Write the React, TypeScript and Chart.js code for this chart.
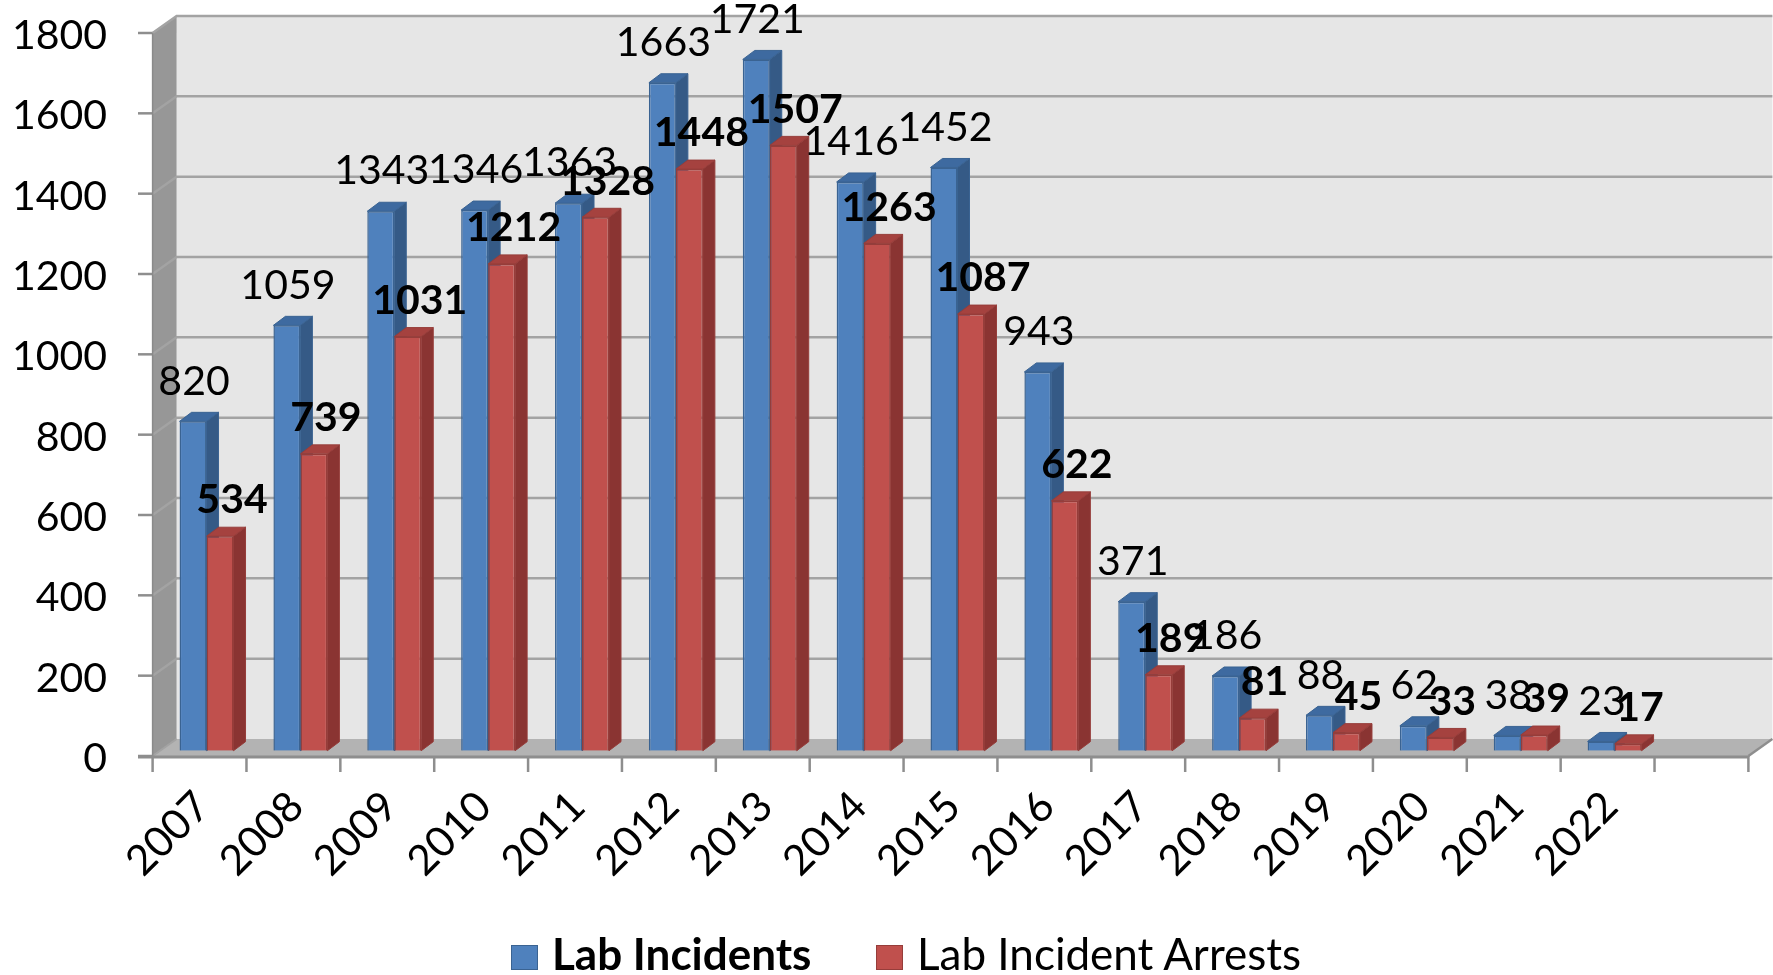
import React, { useEffect, useRef } from 'react';
import { Chart, registerables } from 'chart.js';

Chart.register(...registerables);

// ---------- data ----------
const years = ['2007', '2008', '2009', '2010', '2011', '2012', '2013', '2014', '2015', '2016', '2017', '2018', '2019', '2020', '2021', '2022', ''];
const labIncidents = [820, 1059, 1343, 1346, 1363, 1663, 1721, 1416, 1452, 943, 371, 186, 88, 62, 38, 23, null];
const labArrests = [534, 739, 1031, 1212, 1328, 1448, 1507, 1263, 1087, 622, 189, 81, 45, 33, 39, 17, null];
const seriesNames = ['Lab Incidents', 'Lab Incident Arrests'];
const yMin = 0;
const yMax = 1800;
const yStep = 200;

// ---------- styling / geometry ----------
const W = 1773;
const H = 975;
const FONT = 'Lato, "Open Sans", sans-serif';
const BLUE = { front: '#4F81BD', top: '#3E6AA0', side: '#355A86', edge: '#3A6392' };
const RED = { front: '#C0504D', top: '#A5423F', side: '#8A3432', edge: '#963D3A' };
const BACK_WALL = '#E6E6E6';
const SIDE_WALL = '#979797';
const FLOOR = '#B3B3B3';
const GRID = '#A3A3A3';
const AXIS = '#8E8E8E';
// bar plane relative to the front plane
const BAR_DX = 7;
const BAR_DY = -5.3;
// full wall depth
const WALL_DX = 24;
const WALL_DY = -17;
// bar depth
const BAR_DEPTH_DX = 12;
const BAR_DEPTH_DY = -9;
const AREA_LEFT = 159.6;
const AREA_RIGHT = 1755.4;
const AREA_TOP = 27.7;
const AREA_BOTTOM = 750.7;

function poly(ctx: CanvasRenderingContext2D, pts: number[][], fill?: string, stroke?: string, lw = 1) {
  ctx.beginPath();
  ctx.moveTo(pts[0][0], pts[0][1]);
  for (let i = 1; i < pts.length; i++) ctx.lineTo(pts[i][0], pts[i][1]);
  ctx.closePath();
  if (fill) {
    ctx.fillStyle = fill;
    ctx.fill();
  }
  if (stroke) {
    ctx.strokeStyle = stroke;
    ctx.lineWidth = lw;
    ctx.stroke();
  }
}

function line(ctx: CanvasRenderingContext2D, pts: number[][], color: string, lw: number) {
  ctx.beginPath();
  ctx.moveTo(pts[0][0], pts[0][1]);
  for (let i = 1; i < pts.length; i++) ctx.lineTo(pts[i][0], pts[i][1]);
  ctx.strokeStyle = color;
  ctx.lineWidth = lw;
  ctx.stroke();
}

const wallsPlugin = {
  id: 'walls3d',
  beforeDraw(chart: any) {
    const { ctx, chartArea: ca, scales } = chart;
    const y = scales.y;
    const fl = ca.left - BAR_DX;
    const fr = ca.right - BAR_DX;
    const fy = (v: number) => y.getPixelForValue(v) - BAR_DY;
    const f0 = fy(yMin);
    const fTop = fy(yMax);
    ctx.save();
    // back wall
    poly(ctx, [[fl + WALL_DX, fTop + WALL_DY], [fr + WALL_DX, fTop + WALL_DY], [fr + WALL_DX, f0 + WALL_DY], [fl + WALL_DX, f0 + WALL_DY]], BACK_WALL);
    // side wall
    poly(ctx, [[fl, fTop], [fl + WALL_DX, fTop + WALL_DY], [fl + WALL_DX, f0 + WALL_DY], [fl, f0]], SIDE_WALL);
    // floor
    poly(ctx, [[fl, f0], [fr, f0], [fr + WALL_DX, f0 + WALL_DY], [fl + WALL_DX, f0 + WALL_DY]], FLOOR);
    // gridlines
    for (let v = yMin; v <= yMax; v += yStep) {
      const py = fy(v);
      if (v === yMin) {
        line(ctx, [[fl, py], [fl + WALL_DX, py + WALL_DY]], GRID, 2);
      } else {
        line(ctx, [[fl, py], [fl + WALL_DX, py + WALL_DY], [fr + WALL_DX, py + WALL_DY]], GRID, 2.5);
      }
      // y tick marks on the front edge
      line(ctx, [[fl - 14.6, py], [fl, py]], AXIS, 2.5);
    }
    // floor right edge
    line(ctx, [[fr, f0], [fr + WALL_DX, f0 + WALL_DY]], AXIS, 2.5);
    // front vertical axis edge
    line(ctx, [[fl, fTop], [fl, f0]], '#8A8A8A', 1.5);
    // x axis line
    line(ctx, [[fl - 14.6, f0 + 1], [fr, f0 + 1]], AXIS, 3);
    // x tick marks at category boundaries
    const n = years.length;
    const cw = (fr - fl) / n;
    for (let k = 0; k <= n; k++) {
      const px = fl + k * cw;
      line(ctx, [[px, f0], [px, f0 + 16]], AXIS, 2.5);
    }
    ctx.restore();
  },
  beforeDatasetsDraw(chart: any) {
    const { ctx } = chart;
    const metas = [chart.getDatasetMeta(0), chart.getDatasetMeta(1)];
    const cols = [BLUE, RED];
    ctx.save();
    ctx.lineJoin = 'round';
    for (let i = 0; i < years.length; i++) {
      metas.forEach((meta: any, d: number) => {
        const raw = chart.data.datasets[d].data[i];
        if (raw === null || raw === undefined) return;
        const el = meta.data[i];
        if (!el) return;
        const { x, y, base, width } = el.getProps(['x', 'y', 'base', 'width'], true);
        const l = x - width / 2;
        const r = x + width / 2;
        const c = cols[d];
        poly(ctx, [[r, y], [r + BAR_DEPTH_DX, y + BAR_DEPTH_DY], [r + BAR_DEPTH_DX, base + BAR_DEPTH_DY], [r, base]], c.side, c.edge, 1);
        poly(ctx, [[l, y], [r, y], [r + BAR_DEPTH_DX, y + BAR_DEPTH_DY], [l + BAR_DEPTH_DX, y + BAR_DEPTH_DY]], c.top, c.edge, 1);
      });
    }
    ctx.restore();
  },
};

const labelsPlugin = {
  id: 'valueLabels',
  afterDatasetsDraw(chart: any) {
    const { ctx } = chart;
    const cfg = [
      { weight: 'normal', dx: 1, dy: -40 },
      { weight: 'bold', dx: 12, dy: -36 },
    ];
    ctx.save();
    ctx.textAlign = 'center';
    ctx.textBaseline = 'middle';
    ctx.fillStyle = '#000';
    [0, 1].forEach((d) => {
      const meta = chart.getDatasetMeta(d);
      const data = chart.data.datasets[d].data;
      ctx.font = `${cfg[d].weight} 41px ${FONT}`;
      meta.data.forEach((el: any, i: number) => {
        const v = data[i];
        if (v === null || v === undefined) return;
        const { x, y } = el.getProps(['x', 'y'], true);
        ctx.fillText(String(v), x + cfg[d].dx, y + cfg[d].dy);
      });
    });
    ctx.restore();
  },
};

export default function App() {
  const ref = useRef<HTMLCanvasElement | null>(null);

  useEffect(() => {
    if (!ref.current) return;
    const chart = new Chart(ref.current, {
      type: 'bar',
      data: {
        labels: years,
        datasets: [
          {
            label: seriesNames[0],
            data: labIncidents,
            backgroundColor: BLUE.front,
            borderColor: BLUE.edge,
            borderWidth: 1.5,
          },
          {
            label: seriesNames[1],
            data: labArrests,
            backgroundColor: RED.front,
            borderColor: RED.edge,
            borderWidth: 1.5,
          },
        ],
      },
      options: {
        responsive: false,
        animation: false,
        layout: { padding: { left: 0, right: W - AREA_RIGHT, top: AREA_TOP, bottom: 0 } },
        datasets: { bar: { categoryPercentage: 0.575, barPercentage: 1 } } as any,
        plugins: { legend: { display: false }, tooltip: { enabled: false } },
        scales: {
          x: {
            grid: { display: false, drawTicks: false },
            border: { display: false },
            ticks: {
              autoSkip: false,
              maxRotation: 45,
              minRotation: 45,
              padding: 31,
              labelOffset: -4,
              color: '#000',
              font: { family: FONT, size: 42 },
            },
            afterFit: (s: any) => {
              s.height = H - AREA_BOTTOM;
              s.paddingLeft = 0;
              s.paddingRight = 0;
            },
          },
          y: {
            min: yMin,
            max: yMax,
            grid: { display: false, drawTicks: false },
            border: { display: false },
            ticks: {
              stepSize: yStep,
              padding: AREA_LEFT - 107,
              labelOffset: 8,
              color: '#000',
              font: { family: FONT, size: 41 },
              callback: (v: any) => String(v),
            },
            afterFit: (s: any) => {
              s.width = AREA_LEFT;
              s.paddingTop = 0;
              s.paddingBottom = 0;
            },
          },
        },
      },
      plugins: [wallsPlugin, labelsPlugin],
    });
    return () => chart.destroy();
  }, []);

  const legendText: React.CSSProperties = {
    position: 'absolute',
    top: 931,
    fontFamily: FONT,
    fontSize: 44,
    lineHeight: '44px',
    whiteSpace: 'nowrap',
    color: '#000',
  };
  const box = (c: { front: string; edge: string }, left: number): React.CSSProperties => ({
    position: 'absolute',
    left,
    top: 945,
    width: 25,
    height: 23,
    background: c.front,
    border: `1px solid ${c.edge}`,
  });

  return (
    <div style={{ position: 'fixed', left: 0, top: 0, width: W, height: H, background: '#fff', overflow: 'hidden' }}>
      <canvas ref={ref} width={W} height={H} style={{ display: 'block', width: W, height: H }} />
      <div style={box(BLUE, 511)} />
      <div style={{ ...legendText, left: 552, fontWeight: 'bold' }}>{seriesNames[0]}</div>
      <div style={box(RED, 876)} />
      <div style={{ ...legendText, left: 917 }}>{seriesNames[1]}</div>
    </div>
  );
}
